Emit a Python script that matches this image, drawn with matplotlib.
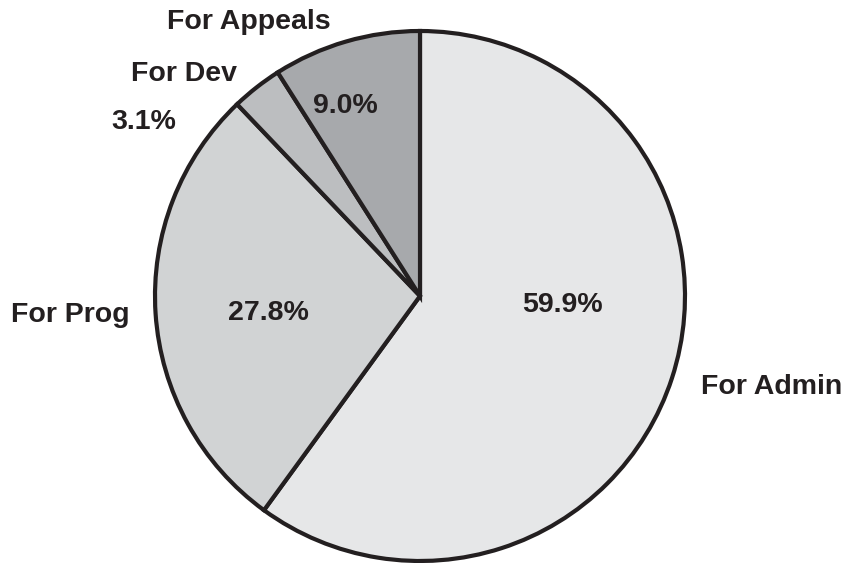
import matplotlib
matplotlib.use("Agg")
import matplotlib.pyplot as plt

labels = ["For Admin", "For Prog", "For Dev", "For Appeals"]
shares = [59.9, 27.8, 3.1, 9.0]
colors = ["#e6e7e8", "#d1d3d4", "#bcbec0", "#a7a9ac"]

W, H = 843, 563
fig = plt.figure(figsize=(W / 100, H / 100), dpi=100)
ax = fig.add_axes([0, 0, 1, 1])

ink = "#231f20"
ax.pie(shares, colors=colors, startangle=90, counterclock=False,
       center=(420, H - 296), radius=265, frame=True,
       wedgeprops=dict(edgecolor=ink, linewidth=3, joinstyle="miter"))
ax.set_xlim(0, W); ax.set_ylim(0, H)
ax.set_aspect("equal"); ax.axis("off")

font = dict(family="Liberation Sans", weight="bold", size=20.5, color=ink,
            ha="center", va="center")
# label and percent positions in pixels (from top-left)
name_pos = [(772, 387), (70, 315), (184, 74), (249, 22)]
pct_pos = [(562, 305), (268, 313), (144, 122), (345, 106)]
for lab, val, (nx, ny), (px, py) in zip(labels, shares, name_pos, pct_pos):
    ax.text(nx, H - ny, lab, **font)
    ax.text(px, H - py, f"{val:.1f}%", **font)

fig.savefig("out.png", dpi=100)
